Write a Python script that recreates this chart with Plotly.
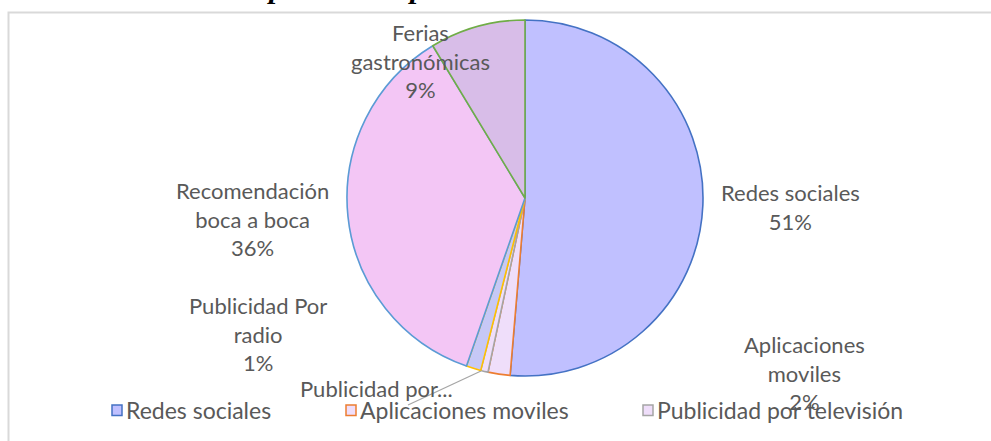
import plotly.graph_objects as go

# ---- data ----
categories = ["Redes sociales", "Aplicaciones moviles", "Publicidad por televisión",
              "Publicidad Por radio", "Recomendación boca a boca", "Ferias gastronómicas"]
values = [77, 3, 1, 2, 54, 13]
fill_colors = ["#C0C0FF", "#EFDEFA", "#EFDEFA", "#C6C8F6", "#F3C6F5", "#D8BDE8"]
line_colors = ["#4472C4", "#ED7D31", "#A5A5A5", "#FFC000", "#5B9BD5", "#70AD47"]
legend_items = categories[:3]
title_text = "Canales de promoción para tacos"

W, H = 991, 441
FONT = "Lato"
TXT = "#595959"

def px(x):
    return x / W

def py(y):
    return 1 - y / H

total = sum(values)
pct = [round(100 * v / total) for v in values]

fig = go.Figure()
fig.add_trace(go.Pie(
    labels=categories, values=values, sort=False, direction="clockwise", rotation=0,
    marker=dict(colors=fill_colors, line=dict(color=line_colors, width=1.6)),
    textinfo="none", hoverinfo="label+percent", showlegend=False,
    domain=dict(x=[px(347), px(703)], y=[py(376), py(20)]),
))

# data labels (Excel-like placement)
label_pos = {
    0: (790, 207, categories[0]),
    1: (804, 373, "Aplicaciones<br>moviles"),
    2: (376, 388, "Publicidad por..."),
    3: (258, 334, "Publicidad Por<br>radio"),
    4: (252, 219, "Recomendación<br>boca a boca"),
    5: (420, 61, "Ferias<br>gastronómicas"),
}
annotations = []
for i, (x, y, name) in label_pos.items():
    txt = name if i == 2 else f"{name}<br>{pct[i]}%"
    annotations.append(dict(x=px(x), y=py(y), xref="paper", yref="paper", text=txt,
                            showarrow=False, xanchor="center", yanchor="middle",
                            font=dict(family=FONT, size=22, color=TXT)))

# legend (manual, Excel truncated legend)
legend_x = [117, 351, 648]
shapes = []
for i, name in enumerate(legend_items):
    cx = legend_x[i]
    shapes.append(dict(type="rect", xref="paper", yref="paper",
                       x0=px(cx - 5), x1=px(cx + 5), y0=py(415.5), y1=py(405),
                       fillcolor=fill_colors[i], line=dict(color=line_colors[i], width=1.5)))
    annotations.append(dict(x=px(cx + 7), y=py(410), xref="paper", yref="paper", text=name,
                            showarrow=False, xanchor="left", yanchor="middle",
                            font=dict(family=FONT, size=23, color=TXT)))

# leader line for truncated label
shapes.append(dict(type="line", xref="paper", yref="paper",
                   x0=px(408), y0=py(405), x1=px(481), y1=py(371),
                   line=dict(color="#A6A6A6", width=1.3)))

# chart frame
shapes.append(dict(type="rect", xref="paper", yref="paper",
                   x0=px(8.5), x1=px(1010), y0=py(460), y1=py(12.5),
                   line=dict(color="#D9D9D9", width=2), fillcolor="rgba(0,0,0,0)", layer="below"))

# cropped caption at top
annotations.append(dict(x=px(540), y=py(6), xref="paper", yref="paper", text=f"<b><i>{title_text}</i></b>",
                        showarrow=False, xanchor="right", yanchor="bottom",
                        font=dict(family="Liberation Serif", size=30, color="#000000")))

fig.update_layout(
    width=W, height=H, margin=dict(l=0, r=0, t=0, b=0),
    paper_bgcolor="white", plot_bgcolor="white",
    shapes=shapes, annotations=annotations, showlegend=False,
)

fig.write_html("out.html", config={"displayModeBar": False},
               post_script="document.body.style.margin='0';")
